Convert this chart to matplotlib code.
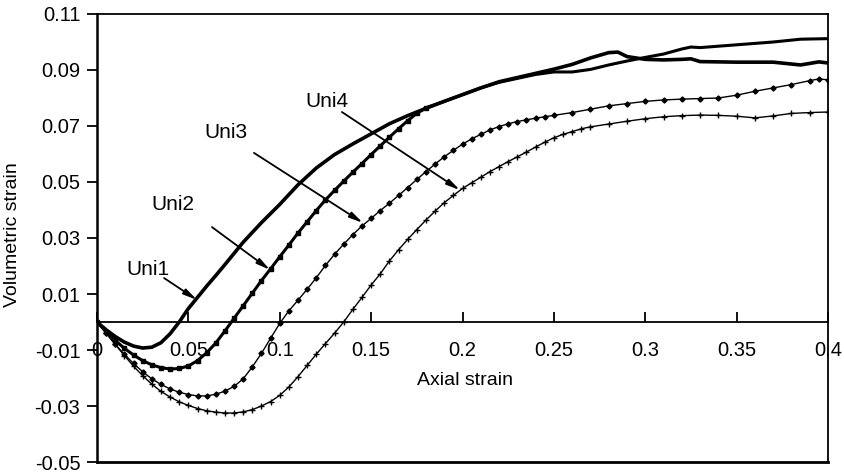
import numpy as np
import matplotlib
matplotlib.use("Agg")
import matplotlib.pyplot as plt

plt.rcParams['font.family'] = ['Liberation Sans', 'DejaVu Sans']

# axial strain / volumetric strain for the four undrained tests
uni1_x = [0, 0.005, 0.01, 0.015, 0.02, 0.025, 0.03, 0.035, 0.04, 0.045, 0.05,
          0.055, 0.06, 0.065, 0.07, 0.075, 0.08, 0.09, 0.1, 0.11, 0.12, 0.13,
          0.14, 0.15, 0.16, 0.17, 0.18, 0.19, 0.2, 0.21, 0.22, 0.23, 0.24,
          0.25, 0.26, 0.27, 0.28, 0.285, 0.29, 0.3, 0.31, 0.32, 0.325, 0.33,
          0.35, 0.37, 0.385, 0.395, 0.4]
uni1_y = [0, -0.0028, -0.0052, -0.0072, -0.0086, -0.0093, -0.0090, -0.0074,
          -0.0042, 0.0000, 0.0048, 0.0088, 0.0128, 0.0166, 0.0205, 0.0245,
          0.0285, 0.0355, 0.0420, 0.0490, 0.0550, 0.0598, 0.0636, 0.0672,
          0.0708, 0.0737, 0.0763, 0.0788, 0.0812, 0.0836, 0.0858, 0.0873,
          0.0888, 0.0903, 0.0920, 0.0943, 0.0962, 0.0964, 0.0948, 0.0938,
          0.0936, 0.0938, 0.0940, 0.0930, 0.0928, 0.0928, 0.0918, 0.0929,
          0.0925]

uni2_x = [0, 0.005, 0.01, 0.015, 0.02, 0.025, 0.03, 0.035, 0.04, 0.045, 0.05,
          0.055, 0.06, 0.065, 0.07, 0.075, 0.08, 0.085, 0.09, 0.095, 0.1,
          0.105, 0.11, 0.115, 0.12, 0.125, 0.13, 0.135, 0.14, 0.145, 0.15,
          0.155, 0.16, 0.165, 0.17, 0.175, 0.18, 0.19, 0.2, 0.21, 0.22, 0.23,
          0.24, 0.25, 0.26, 0.27, 0.28, 0.29, 0.3, 0.31, 0.32, 0.325, 0.33,
          0.35, 0.37, 0.385, 0.4]
uni2_y = [0, -0.0034, -0.0066, -0.0094, -0.0118, -0.0138, -0.0153, -0.0163,
          -0.0168, -0.0166, -0.0157, -0.0138, -0.0110, -0.0075, -0.0032,
          0.0013, 0.0058, 0.0103, 0.0148, 0.0190, 0.0233, 0.0275, 0.0318,
          0.0358, 0.0398, 0.0436, 0.0470, 0.0503, 0.0535, 0.0566, 0.0598,
          0.0629, 0.0660, 0.0690, 0.0719, 0.0745, 0.0765, 0.0788, 0.0812,
          0.0836, 0.0856, 0.0870, 0.0884, 0.0893, 0.0893, 0.0902, 0.0918,
          0.0932, 0.0945, 0.0957, 0.0975, 0.0982, 0.0980, 0.0990, 0.1000,
          0.1010, 0.1012]

uni3_x = [0, 0.005, 0.01, 0.015, 0.02, 0.025, 0.03, 0.035, 0.04, 0.045, 0.05,
          0.055, 0.06, 0.065, 0.07, 0.075, 0.08, 0.085, 0.09, 0.095, 0.1,
          0.105, 0.11, 0.115, 0.12, 0.125, 0.13, 0.135, 0.14, 0.145, 0.15,
          0.155, 0.16, 0.165, 0.17, 0.175, 0.18, 0.185, 0.19, 0.195, 0.2,
          0.205, 0.21, 0.215, 0.22, 0.225, 0.23, 0.235, 0.24, 0.245, 0.25,
          0.26, 0.27, 0.28, 0.29, 0.3, 0.31, 0.32, 0.33, 0.34, 0.35, 0.36,
          0.37, 0.38, 0.39, 0.395, 0.4]
uni3_y = [0, -0.0040, -0.0080, -0.0116, -0.0148, -0.0178, -0.0203, -0.0223,
          -0.0239, -0.0251, -0.0259, -0.0264, -0.0264, -0.0258, -0.0247,
          -0.0230, -0.0203, -0.0160, -0.0112, -0.0058, -0.0005, 0.0040,
          0.0078, 0.0117, 0.0158, 0.0202, 0.0242, 0.0278, 0.0312, 0.0343,
          0.0370, 0.0398, 0.0424, 0.0452, 0.0480, 0.0509, 0.0537, 0.0564,
          0.0590, 0.0613, 0.0635, 0.0654, 0.0670, 0.0686, 0.0698, 0.0708,
          0.0716, 0.0722, 0.0728, 0.0733, 0.0738, 0.0748, 0.0760, 0.0772,
          0.0780, 0.0788, 0.0793, 0.0796, 0.0798, 0.0800, 0.0810, 0.0824,
          0.0836, 0.0848, 0.0862, 0.0868, 0.0865]

uni4_x = [0, 0.005, 0.01, 0.015, 0.02, 0.025, 0.03, 0.035, 0.04, 0.045, 0.05,
          0.055, 0.06, 0.065, 0.07, 0.075, 0.08, 0.085, 0.09, 0.095, 0.1,
          0.105, 0.11, 0.115, 0.12, 0.125, 0.13, 0.135, 0.14, 0.145, 0.15,
          0.155, 0.16, 0.165, 0.17, 0.175, 0.18, 0.185, 0.19, 0.195, 0.2,
          0.205, 0.21, 0.215, 0.22, 0.225, 0.23, 0.235, 0.24, 0.245, 0.25,
          0.255, 0.26, 0.265, 0.27, 0.28, 0.29, 0.3, 0.31, 0.32, 0.33, 0.34,
          0.35, 0.36, 0.37, 0.38, 0.39, 0.4]
uni4_y = [0, -0.0040, -0.0080, -0.0120, -0.0158, -0.0192, -0.0222, -0.0248,
          -0.0268, -0.0285, -0.0298, -0.0309, -0.0317, -0.0322, -0.0325,
          -0.0325, -0.0321, -0.0313, -0.0300, -0.0284, -0.0262, -0.0232,
          -0.0195, -0.0155, -0.0115, -0.0077, -0.0040, 0.0000, 0.0045, 0.0088,
          0.0132, 0.0172, 0.0218, 0.0258, 0.0295, 0.0330, 0.0364, 0.0396,
          0.0426, 0.0452, 0.0477, 0.0497, 0.0517, 0.0537, 0.0555, 0.0573,
          0.0590, 0.0607, 0.0625, 0.0642, 0.0658, 0.0670, 0.0680, 0.0690,
          0.0697, 0.0707, 0.0717, 0.0726, 0.0733, 0.0737, 0.0739, 0.0738,
          0.0735, 0.0729, 0.0736, 0.0745, 0.0748, 0.0750]

x_ticks = [0, 0.05, 0.1, 0.15, 0.2, 0.25, 0.3, 0.35, 0.4]
x_ticklabels = ['0', '0.05', '0.1', '0.15', '0.2', '0.25', '0.3', '0.35', '0.4']
y_ticks = [-0.05, -0.03, -0.01, 0.01, 0.03, 0.05, 0.07, 0.09, 0.11]
y_ticklabels = ['-0.05', '-0.03', '-0.01', '0.01', '0.03', '0.05', '0.07',
                '0.09', '0.11']

# label text, text centre, arrow start, arrow tip (data units)
labels = ['Uni1', 'Uni2', 'Uni3', 'Uni4']
label_pos = [(0.0279, 0.0186), (0.0416, 0.0418), (0.0706, 0.0675), (0.1259, 0.0789)]
arrow_from = [(0.0367, 0.0157), (0.0629, 0.0339), (0.0859, 0.0604), (0.134, 0.075)]
arrow_to = [(0.0547, 0.0079), (0.0947, 0.0186), (0.1455, 0.0354), (0.1986, 0.0471)]

fig = plt.figure(figsize=(8.45, 4.72), dpi=100)
ax = fig.add_axes([97 / 845, 10 / 472, 731 / 845, 448 / 472])

ax.plot(uni1_x, uni1_y, color='k', lw=2.6, solid_capstyle='round')
ax.plot(uni2_x, uni2_y, color='k', lw=2.2, marker='s', ms=2.6, markevery=slice(0, 37))
ax.plot(uni3_x, uni3_y, color='k', lw=1.0, marker='D', ms=2.6)
ax.plot(uni4_x, uni4_y, color='k', lw=1.0, marker='+', ms=4.5, mew=1.0)

for txt, p, a, b in zip(labels, label_pos, arrow_from, arrow_to):
    ax.text(p[0], p[1], txt, ha='center', va='center', fontsize=15)
    ax.annotate('', xy=b, xytext=a,
                arrowprops=dict(arrowstyle='-|>,head_length=0.8,head_width=0.18',
                                color='k', lw=1.3, shrinkA=0, shrinkB=0))

ax.set_xlim(0, 0.4)
ax.set_ylim(-0.05, 0.11)

ax.set_xticks(x_ticks)
ax.set_xticklabels(x_ticklabels)
ax.set_yticks(y_ticks)
ax.set_yticklabels(y_ticklabels)

# x axis runs along zero strain, frame closed below it
ax.spines['bottom'].set_position(('data', 0))
ax.axhline(-0.05, color='k', lw=2.0, clip_on=False)
for side in ['top', 'right', 'bottom']:
    ax.spines[side].set_linewidth(1.3)
ax.spines['left'].set_linewidth(1.8)

ax.tick_params(axis='x', direction='in', length=7, width=1.3, pad=14, labelsize=14.5)
ax.tick_params(axis='y', direction='out', length=7, width=1.3, pad=5, labelsize=14.5)

fig.text(13 / 845, 1 - 235 / 472, 'Volumetric strain', rotation=90,
         ha='center', va='center', fontsize=14)
ax.text(0.503, 0.183, 'Axial strain', transform=ax.transAxes,
        ha='center', va='center', fontsize=14)

fig.savefig('out.png', dpi=100)
